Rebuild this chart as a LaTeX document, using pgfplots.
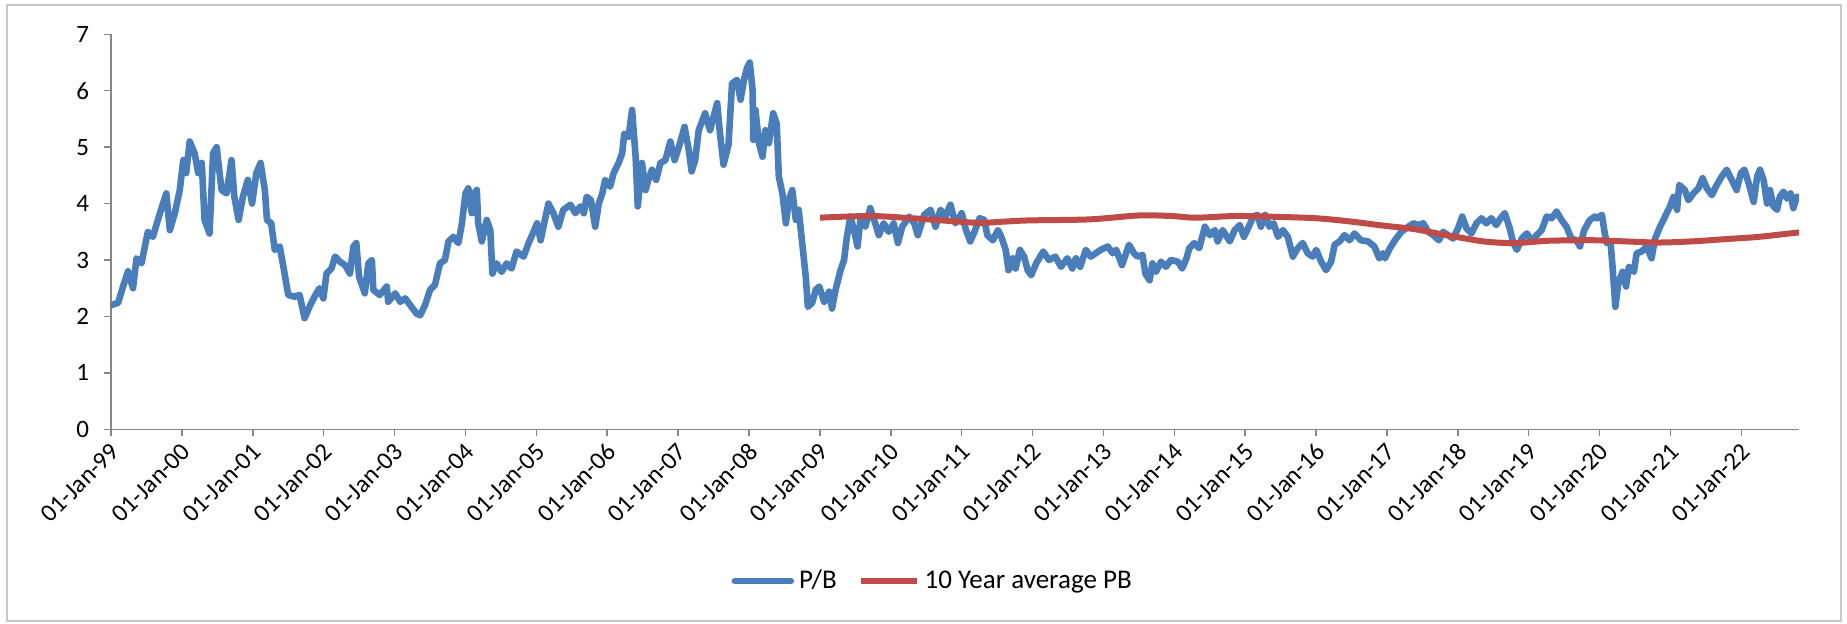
\documentclass[border=0pt]{standalone}
\usepackage{fontspec}
\setmainfont{Carlito}
\usepackage{pgfplots}
\pgfplotsset{compat=1.18}
\usetikzlibrary{calc}
\definecolor{pbblue}{HTML}{4A7EBB}
\definecolor{avgred}{HTML}{BE4B48}
\definecolor{axgray}{HTML}{868686}
\definecolor{framegray}{HTML}{C8C8C8}
\begin{document}
\begin{tikzpicture}
\begin{axis}[
  name=ax,
  at={(0,0)}, anchor=south west,
  scale only axis,
  width=844pt, height=197.5pt,
  xmin=1999, xmax=2022.81, ymin=0, ymax=7,
  enlargelimits=false,
  axis x line=bottom, axis y line=left,
  axis line style={-, draw=axgray, line width=0.75pt},
  tick style={draw=axgray, line width=0.75pt},
  tick align=outside,
  major tick length=3.5pt,
  xtick={1999,...,2022},
  xticklabels={01-Jan-99,01-Jan-00,01-Jan-01,01-Jan-02,01-Jan-03,01-Jan-04,01-Jan-05,01-Jan-06,01-Jan-07,01-Jan-08,01-Jan-09,01-Jan-10,01-Jan-11,01-Jan-12,01-Jan-13,01-Jan-14,01-Jan-15,01-Jan-16,01-Jan-17,01-Jan-18,01-Jan-19,01-Jan-20,01-Jan-21,01-Jan-22},
  ytick={0,...,7},
  /pgf/number format/assume math mode=true,
  ticklabel style={font=\fontsize{12.5}{15}\selectfont},
  xticklabel style={rotate=45, anchor=east, xshift=1pt, yshift=-5.5pt},
  yticklabel style={xshift=-4pt},
  legend style={at={(0.487,-0.384)}, anchor=center, draw=none, fill=none,
    legend columns=-1, font=\fontsize{13.5}{16}\selectfont,
    nodes={inner xsep=1.5pt},
    /tikz/every odd column/.append style={column sep=1pt},
    /tikz/every even column/.append style={column sep=9pt}},
  legend image code/.code={\draw[#1] (0pt,0pt) -- (28pt,0pt);},
]
\addplot[pbblue, line width=3.3pt, line join=round, line cap=round] coordinates {
(1999.00,2.20) (1999.10,2.24) (1999.17,2.53) (1999.24,2.80) (1999.31,2.50) (1999.36,3.03) (1999.43,2.94) (1999.52,3.50) (1999.59,3.41) (1999.69,3.83) (1999.78,4.18) (1999.83,3.53) (1999.90,3.83) (1999.97,4.24)
(2000.02,4.77) (2000.06,4.54) (2000.11,5.10) (2000.18,4.89) (2000.23,4.54) (2000.28,4.72) (2000.32,3.71) (2000.39,3.47) (2000.44,4.89) (2000.49,5.00) (2000.56,4.24) (2000.63,4.18) (2000.70,4.77) (2000.74,4.12) (2000.80,3.71) (2000.86,4.12) (2000.93,4.42) (2000.99,4.00)
(2001.05,4.54) (2001.11,4.72) (2001.17,4.24) (2001.20,3.71) (2001.26,3.65) (2001.31,3.18) (2001.38,3.24) (2001.44,2.82) (2001.50,2.38) (2001.59,2.35) (2001.66,2.38) (2001.73,1.97) (2001.80,2.17) (2001.87,2.35) (2001.94,2.50) (2001.995,2.32)
(2002.04,2.76) (2002.11,2.85) (2002.16,3.06) (2002.23,2.97) (2002.30,2.91) (2002.37,2.76) (2002.42,3.24) (2002.46,3.30) (2002.50,2.70) (2002.58,2.41) (2002.63,2.94) (2002.68,3.00) (2002.70,2.47) (2002.79,2.38) (2002.89,2.53) (2002.91,2.26)
(2003.01,2.41) (2003.08,2.26) (2003.15,2.32) (2003.22,2.20) (2003.31,2.05) (2003.36,2.02) (2003.43,2.20) (2003.50,2.47) (2003.57,2.56) (2003.64,2.94) (2003.71,3.00) (2003.76,3.33) (2003.83,3.41) (2003.90,3.30) (2003.95,3.65)
(2004.00,4.18) (2004.04,4.27) (2004.09,3.83) (2004.12,4.18) (2004.16,4.24) (2004.18,3.65) (2004.23,3.33) (2004.30,3.71) (2004.35,3.53) (2004.38,2.76) (2004.44,2.94) (2004.51,2.79) (2004.58,2.94) (2004.65,2.85) (2004.72,3.15) (2004.82,3.06) (2004.89,3.30) (2004.96,3.50)
(2005.01,3.65) (2005.06,3.35) (2005.10,3.59) (2005.17,4.00) (2005.24,3.83) (2005.31,3.59) (2005.38,3.89) (2005.48,3.98) (2005.55,3.83) (2005.62,3.95) (2005.67,3.83) (2005.71,4.12) (2005.77,4.06) (2005.83,3.59) (2005.88,4.00) (2005.93,4.18) (2005.97,4.42)
(2006.04,4.30) (2006.09,4.54) (2006.16,4.72) (2006.21,4.89) (2006.24,5.24) (2006.30,5.18) (2006.35,5.66) (2006.40,4.83) (2006.43,3.95) (2006.49,4.72) (2006.54,4.24) (2006.58,4.42) (2006.63,4.60) (2006.69,4.42) (2006.75,4.72) (2006.82,4.77) (2006.89,5.10) (2006.95,4.77)
(2007.01,5.00) (2007.09,5.36) (2007.15,4.95) (2007.19,4.57) (2007.24,4.77) (2007.29,5.30) (2007.38,5.60) (2007.45,5.30) (2007.55,5.78) (2007.59,5.24) (2007.64,4.69) (2007.71,5.04) (2007.76,6.13) (2007.83,6.19) (2007.88,5.84) (2007.93,6.20) (2007.97,6.40)
(2008.01,6.50) (2008.05,6.01) (2008.06,5.13) (2008.09,5.66) (2008.14,5.07) (2008.19,4.83) (2008.23,5.30) (2008.28,5.07) (2008.34,5.60) (2008.39,5.42) (2008.42,4.48) (2008.47,4.18) (2008.52,3.65) (2008.56,4.06) (2008.61,4.24) (2008.66,3.71) (2008.70,3.89) (2008.75,3.30) (2008.80,2.70) (2008.83,2.17) (2008.89,2.24) (2008.94,2.47) (2008.99,2.53)
(2009.06,2.26) (2009.13,2.44) (2009.17,2.14) (2009.22,2.47) (2009.29,2.82) (2009.34,3.00) (2009.38,3.41) (2009.43,3.77) (2009.48,3.53) (2009.53,3.24) (2009.57,3.71) (2009.64,3.59) (2009.71,3.92) (2009.78,3.65) (2009.83,3.44) (2009.90,3.65) (2009.97,3.50)
(2010.04,3.65) (2010.10,3.30) (2010.16,3.59) (2010.26,3.77) (2010.33,3.65) (2010.38,3.44) (2010.47,3.80) (2010.56,3.89) (2010.63,3.59) (2010.70,3.89) (2010.77,3.77) (2010.84,3.98) (2010.91,3.65) (2010.96,3.74)
(2011.00,3.83) (2011.06,3.53) (2011.12,3.33) (2011.18,3.50) (2011.25,3.74) (2011.32,3.71) (2011.36,3.44) (2011.44,3.35) (2011.51,3.53) (2011.55,3.44) (2011.62,3.18) (2011.66,2.82) (2011.72,3.03) (2011.76,2.85) (2011.82,3.18) (2011.88,3.06) (2011.93,2.82) (2011.98,2.73)
(2012.05,2.94) (2012.15,3.15) (2012.23,3.00) (2012.32,3.06) (2012.40,2.88) (2012.49,3.03) (2012.56,2.85) (2012.61,3.03) (2012.67,2.88) (2012.75,3.18) (2012.82,3.06) (2012.89,3.12) (2012.96,3.18)
(2013.06,3.24) (2013.13,3.12) (2013.18,3.18) (2013.26,2.91) (2013.36,3.27) (2013.43,3.12) (2013.48,3.06) (2013.55,3.09) (2013.59,2.76) (2013.65,2.64) (2013.69,2.94) (2013.74,2.79) (2013.81,2.97) (2013.88,2.88) (2013.95,3.00)
(2014.05,2.97) (2014.11,2.85) (2014.17,3.03) (2014.21,3.21) (2014.28,3.30) (2014.35,3.21) (2014.43,3.59) (2014.50,3.44) (2014.57,3.53) (2014.61,3.33) (2014.68,3.53) (2014.78,3.33) (2014.85,3.53) (2014.92,3.62) (2014.98,3.41)
(2015.06,3.62) (2015.11,3.77) (2015.17,3.80) (2015.22,3.59) (2015.28,3.80) (2015.34,3.59) (2015.40,3.65) (2015.46,3.41) (2015.53,3.53) (2015.60,3.41) (2015.67,3.06) (2015.74,3.21) (2015.81,3.30) (2015.88,3.12) (2015.95,3.06)
(2016.00,3.18) (2016.07,2.97) (2016.14,2.82) (2016.21,2.97) (2016.26,3.27) (2016.33,3.33) (2016.40,3.44) (2016.47,3.35) (2016.54,3.47) (2016.63,3.35) (2016.73,3.33) (2016.82,3.24) (2016.89,3.03) (2016.94,3.12) (2016.97,3.03)
(2017.04,3.21) (2017.11,3.35) (2017.20,3.50) (2017.30,3.59) (2017.37,3.65) (2017.44,3.62) (2017.51,3.65) (2017.58,3.50) (2017.65,3.44) (2017.73,3.35) (2017.79,3.50) (2017.86,3.44) (2017.93,3.38)
(2018.00,3.56) (2018.06,3.77) (2018.12,3.56) (2018.19,3.47) (2018.26,3.65) (2018.33,3.74) (2018.40,3.65) (2018.47,3.74) (2018.54,3.62) (2018.60,3.74) (2018.66,3.83) (2018.73,3.56) (2018.78,3.30) (2018.83,3.18) (2018.90,3.38) (2018.97,3.47)
(2019.04,3.35) (2019.11,3.44) (2019.18,3.53) (2019.25,3.77) (2019.32,3.74) (2019.39,3.86) (2019.46,3.71) (2019.53,3.59) (2019.60,3.38) (2019.67,3.35) (2019.72,3.24) (2019.78,3.53) (2019.86,3.71) (2019.93,3.77) (2019.96,3.74)
(2020.03,3.80) (2020.07,3.47) (2020.10,3.30) (2020.15,3.33) (2020.18,2.88) (2020.22,2.17) (2020.26,2.58) (2020.32,2.79) (2020.37,2.53) (2020.41,2.88) (2020.48,2.79) (2020.52,3.12) (2020.59,3.15) (2020.66,3.24) (2020.73,3.03) (2020.78,3.38) (2020.85,3.59) (2020.92,3.77) (2020.99,3.95)
(2021.04,4.12) (2021.09,3.89) (2021.12,4.33) (2021.20,4.24) (2021.25,4.06) (2021.32,4.18) (2021.39,4.27) (2021.45,4.45) (2021.51,4.27) (2021.58,4.15) (2021.65,4.33) (2021.72,4.48) (2021.79,4.60) (2021.86,4.42) (2021.93,4.24) (2021.99,4.54)
(2022.04,4.60) (2022.10,4.36) (2022.17,4.03) (2022.22,4.48) (2022.26,4.60) (2022.31,4.42) (2022.36,4.00) (2022.40,4.24) (2022.45,3.95) (2022.50,3.89) (2022.54,4.12) (2022.59,4.21) (2022.64,4.09) (2022.69,4.18) (2022.73,3.92) (2022.78,4.12) (2022.81,4.12)
};
\addlegendentry{P/B}
\addplot[avgred, line width=3pt, line join=round, smooth, tension=0.5] coordinates {
(2009.00,3.75) (2009.70,3.78) (2010.30,3.74) (2010.96,3.68) (2011.30,3.66) (2011.90,3.70) (2012.80,3.72) (2013.50,3.79) (2013.95,3.78) (2014.30,3.75) (2014.85,3.78) (2015.30,3.77) (2016.00,3.74) (2016.50,3.68) (2016.94,3.61) (2017.37,3.55) (2017.84,3.44) (2018.30,3.34) (2018.54,3.31) (2018.83,3.30) (2019.25,3.34) (2019.72,3.35) (2019.93,3.35) (2020.36,3.33) (2020.83,3.31) (2021.30,3.33) (2021.77,3.37) (2022.24,3.41) (2022.81,3.49)
};
\addlegendentry{10 Year average PB}
\end{axis}
\draw[framegray, line width=0.75pt] ($(ax.south west)+(-52pt,-95.85pt)$) rectangle ($(ax.south west)+(865pt,212.15pt)$);
\pgfresetboundingbox
\path[use as bounding box] ($(ax.south west)+(-55.5pt,-97.35pt)$) rectangle ($(ax.south west)+(868pt,214.65pt)$);
\end{tikzpicture}
\end{document}
